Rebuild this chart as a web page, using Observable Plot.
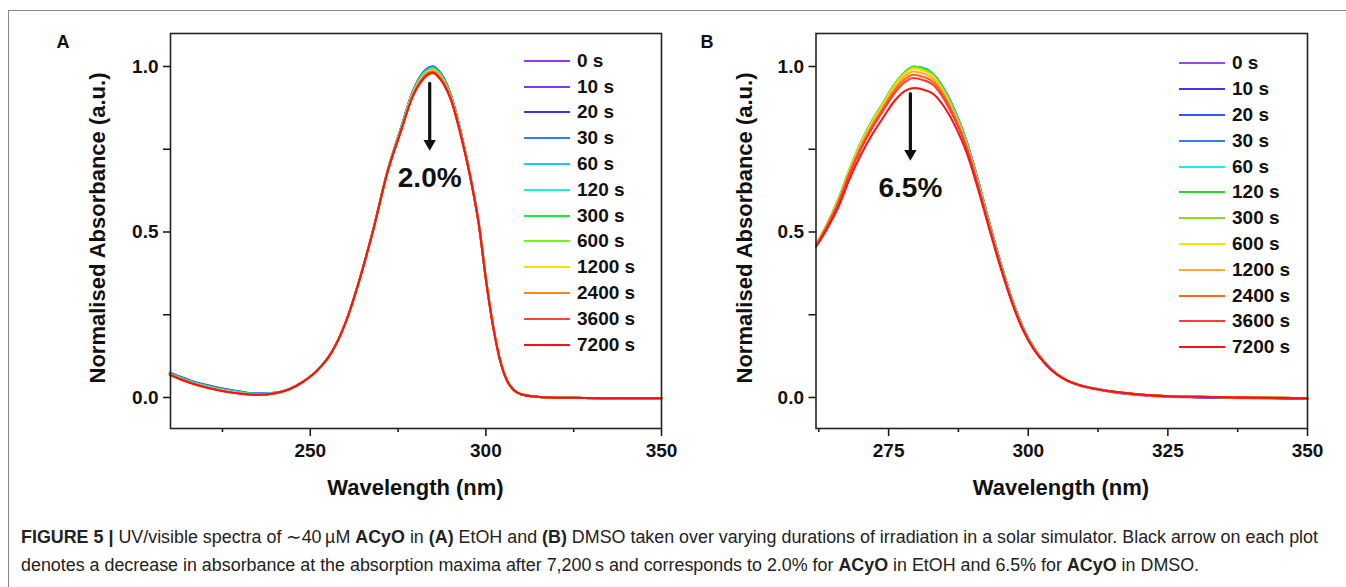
<!DOCTYPE html>
<html><head><meta charset="utf-8">
<script src="https://cdn.jsdelivr.net/npm/d3@7"></script>
<script src="https://cdn.jsdelivr.net/npm/@observablehq/plot@0.6"></script>
<style>
body{margin:0;background:#fff;font-family:"Liberation Sans",Arial,sans-serif;color:#111;}
#fig{position:relative;width:1346px;height:587px;overflow:hidden;background:#fff;}
.box{position:absolute;left:8px;top:10px;width:1400px;height:620px;border:1px solid #8a8a8a;}
.plot{position:absolute;top:0;}
.panel{position:absolute;font-weight:bold;font-size:18px;transform:translate(-50%,-50%);}
.ylab{position:absolute;font-weight:bold;font-size:22px;white-space:nowrap;transform:translate(-50%,-50%) rotate(-90deg);}
.xlab{position:absolute;font-weight:bold;font-size:22px;white-space:nowrap;transform:translate(-50%,-50%);}
.leg{position:absolute;}
.leg .row{display:flex;align-items:center;height:25.8px;}
.leg .sw{width:46px;height:2px;margin-right:7px;}
.leg .lab{font-weight:bold;font-size:19px;white-space:nowrap;}
.cap{position:absolute;left:21px;font-family:"Liberation Sans",Arial,sans-serif;font-size:17.5px;white-space:nowrap;color:#222;transform-origin:0 50%;}
</style></head>
<body><div id="fig"><div class="box"></div></div>
<script>
// ---------- data ----------
const timeLabels = ["0 s","10 s","20 s","30 s","60 s","120 s","300 s","600 s","1200 s","2400 s","3600 s","7200 s"];
const coloursA = ["#9933ff","#7a3dff","#3535ff","#2a7fff","#19c6ff","#22eedd","#11ee33","#66ff11","#ffdd00","#ff8811","#ff4433","#ff1111"];
const coloursB = ["#a040ff","#4433ff","#3355ff","#2a7fff","#11eeff","#22dd22","#88dd22","#ffe000","#ffaa33","#ff6611","#ff3b33","#ff1111"];

const wavelengthA = [210,213,216,220,225,230,235,240,244,248,252,256,260,264,268,272,276,279,282,284,285,286,288,290,293,296,298,300,302,304,306,308,310,314,318,325,335,350];
const absA_0s    = [0.073,0.060,0.048,0.036,0.024,0.016,0.011,0.014,0.025,0.048,0.082,0.135,0.225,0.355,0.510,0.685,0.820,0.920,0.980,0.998,1.000,0.993,0.965,0.915,0.795,0.645,0.525,0.360,0.220,0.115,0.052,0.022,0.010,0.003,0.000,-0.001,-0.002,-0.002];
const absA_10s   = [0.074,0.061,0.049,0.037,0.025,0.016,0.011,0.014,0.025,0.048,0.082,0.135,0.225,0.355,0.510,0.685,0.820,0.920,0.980,0.998,1.000,0.993,0.965,0.915,0.795,0.645,0.525,0.360,0.220,0.115,0.052,0.022,0.010,0.003,0.000,-0.001,-0.002,-0.002];
const absA_20s   = [0.075,0.063,0.051,0.039,0.027,0.018,0.012,0.014,0.025,0.048,0.082,0.135,0.225,0.355,0.510,0.685,0.820,0.919,0.979,0.997,0.999,0.992,0.964,0.914,0.795,0.645,0.525,0.360,0.220,0.115,0.052,0.022,0.010,0.003,0.000,-0.001,-0.002,-0.002];
const absA_30s   = [0.074,0.062,0.050,0.038,0.026,0.017,0.012,0.014,0.025,0.048,0.082,0.135,0.225,0.355,0.510,0.685,0.819,0.919,0.978,0.996,0.998,0.991,0.963,0.914,0.794,0.645,0.525,0.360,0.220,0.115,0.052,0.022,0.010,0.003,0.000,-0.001,-0.002,-0.002];
const absA_60s   = [0.072,0.060,0.048,0.036,0.024,0.016,0.011,0.014,0.025,0.048,0.082,0.135,0.225,0.355,0.510,0.685,0.819,0.918,0.977,0.995,0.997,0.990,0.962,0.913,0.794,0.645,0.525,0.360,0.220,0.115,0.052,0.022,0.010,0.003,0.000,-0.001,-0.002,-0.002];
const absA_120s  = [0.071,0.059,0.047,0.035,0.023,0.015,0.010,0.014,0.025,0.048,0.082,0.135,0.225,0.355,0.510,0.684,0.818,0.917,0.975,0.993,0.995,0.988,0.960,0.911,0.793,0.644,0.525,0.360,0.220,0.115,0.052,0.022,0.010,0.003,0.000,-0.001,-0.002,-0.002];
const absA_300s  = [0.071,0.058,0.046,0.034,0.022,0.014,0.010,0.013,0.025,0.048,0.082,0.135,0.225,0.355,0.510,0.684,0.817,0.915,0.973,0.991,0.993,0.986,0.958,0.910,0.792,0.644,0.524,0.359,0.220,0.115,0.052,0.022,0.010,0.003,0.000,-0.001,-0.002,-0.002];
const absA_600s  = [0.070,0.057,0.045,0.033,0.021,0.013,0.009,0.013,0.025,0.048,0.082,0.135,0.225,0.355,0.510,0.683,0.816,0.913,0.971,0.989,0.991,0.984,0.956,0.908,0.791,0.643,0.524,0.359,0.219,0.115,0.052,0.022,0.010,0.003,0.000,-0.001,-0.002,-0.002];
const absA_1200s = [0.070,0.057,0.045,0.033,0.021,0.013,0.009,0.013,0.025,0.048,0.082,0.135,0.225,0.355,0.510,0.683,0.815,0.913,0.969,0.987,0.989,0.982,0.954,0.907,0.790,0.643,0.523,0.358,0.219,0.114,0.052,0.022,0.010,0.003,0.000,-0.001,-0.002,-0.002];
const absA_2400s = [0.069,0.056,0.044,0.032,0.020,0.012,0.008,0.013,0.025,0.048,0.082,0.135,0.225,0.355,0.510,0.682,0.813,0.910,0.966,0.984,0.986,0.979,0.951,0.905,0.788,0.642,0.522,0.357,0.218,0.114,0.051,0.022,0.010,0.003,0.000,-0.001,-0.002,-0.002];
const absA_3600s = [0.069,0.056,0.044,0.032,0.020,0.012,0.008,0.013,0.025,0.048,0.082,0.135,0.225,0.355,0.510,0.682,0.812,0.907,0.963,0.981,0.983,0.976,0.949,0.903,0.787,0.642,0.522,0.357,0.218,0.114,0.051,0.022,0.010,0.003,0.000,-0.001,-0.002,-0.002];
const absA_7200s = [0.068,0.055,0.043,0.031,0.019,0.011,0.008,0.013,0.025,0.048,0.082,0.135,0.225,0.355,0.510,0.681,0.810,0.905,0.960,0.978,0.980,0.973,0.946,0.900,0.785,0.641,0.521,0.356,0.217,0.113,0.051,0.022,0.010,0.003,0.000,-0.001,-0.002,-0.002];

const wavelengthB = [262,264,266,268,270,272,274,276,278,279.5,281,283,285,287,289,291,293,295,297,299,301,303,305,307,309,312,315,320,325,330,340,350];
const absB_0s    = [0.457,0.520,0.595,0.684,0.764,0.830,0.885,0.940,0.980,0.996,0.994,0.975,0.928,0.859,0.770,0.655,0.529,0.408,0.300,0.212,0.149,0.104,0.071,0.050,0.037,0.025,0.016,0.007,0.002,0.000,-0.002,-0.004];
const absB_10s   = [0.458,0.521,0.596,0.685,0.765,0.831,0.886,0.941,0.981,0.997,0.995,0.976,0.929,0.860,0.771,0.656,0.530,0.409,0.301,0.213,0.150,0.105,0.072,0.051,0.038,0.026,0.017,0.008,0.003,0.001,-0.001,-0.003];
const absB_20s   = [0.459,0.522,0.597,0.686,0.766,0.832,0.887,0.942,0.982,0.998,0.996,0.977,0.930,0.861,0.772,0.657,0.531,0.410,0.302,0.214,0.151,0.106,0.073,0.052,0.039,0.027,0.018,0.009,0.004,0.001,-0.001,-0.003];
const absB_30s   = [0.460,0.523,0.598,0.687,0.767,0.833,0.888,0.943,0.983,0.999,0.996,0.977,0.930,0.861,0.772,0.657,0.531,0.410,0.302,0.214,0.151,0.106,0.073,0.052,0.039,0.027,0.018,0.009,0.004,0.002,0.000,-0.002];
const absB_60s   = [0.460,0.523,0.598,0.688,0.768,0.834,0.889,0.944,0.984,0.999,0.996,0.977,0.929,0.860,0.771,0.656,0.530,0.409,0.301,0.213,0.150,0.106,0.073,0.052,0.039,0.027,0.018,0.009,0.004,0.002,0.000,-0.002];
const absB_120s  = [0.462,0.525,0.600,0.690,0.770,0.835,0.890,0.945,0.985,1.000,0.995,0.975,0.925,0.855,0.766,0.650,0.525,0.404,0.297,0.210,0.148,0.104,0.072,0.051,0.038,0.026,0.018,0.009,0.004,0.002,0.000,-0.002];
const absB_300s  = [0.462,0.525,0.599,0.689,0.769,0.834,0.889,0.944,0.983,0.998,0.993,0.973,0.924,0.854,0.765,0.650,0.525,0.404,0.297,0.210,0.148,0.104,0.072,0.051,0.038,0.026,0.018,0.009,0.004,0.002,0.000,-0.002];
const absB_600s  = [0.461,0.523,0.597,0.687,0.766,0.830,0.885,0.940,0.979,0.993,0.988,0.969,0.920,0.851,0.763,0.648,0.523,0.403,0.296,0.209,0.148,0.104,0.072,0.051,0.038,0.026,0.018,0.009,0.004,0.002,0.000,-0.002];
const absB_1200s = [0.460,0.522,0.594,0.683,0.761,0.825,0.880,0.933,0.972,0.985,0.980,0.962,0.914,0.846,0.760,0.645,0.522,0.402,0.295,0.209,0.147,0.104,0.072,0.051,0.038,0.026,0.018,0.009,0.004,0.002,0.000,-0.002];
const absB_2400s = [0.459,0.519,0.590,0.678,0.755,0.819,0.873,0.926,0.963,0.975,0.970,0.953,0.907,0.840,0.755,0.642,0.519,0.400,0.294,0.208,0.147,0.103,0.072,0.051,0.038,0.026,0.018,0.009,0.004,0.002,0.000,-0.002];
const absB_3600s = [0.458,0.517,0.587,0.674,0.749,0.812,0.866,0.918,0.954,0.965,0.960,0.944,0.899,0.834,0.751,0.639,0.517,0.399,0.293,0.207,0.146,0.103,0.071,0.051,0.038,0.026,0.018,0.009,0.004,0.002,0.000,-0.002];
const absB_7200s = [0.455,0.510,0.575,0.660,0.732,0.793,0.845,0.895,0.927,0.935,0.931,0.917,0.877,0.817,0.738,0.630,0.510,0.394,0.290,0.205,0.145,0.102,0.071,0.051,0.038,0.026,0.018,0.009,0.004,0.002,-0.001,-0.003];

const xTicksA = [250,300,350];
const xMinorA = [225,275,325];
const xTicksB = [275,300,325,350];
const xMinorB = [262.5,287.5,312.5,337.5];
const yTicks = [0,0.5,1.0];
const yMinor = [0.25,0.75];

// arrows: wavelength, start and end absorbance, label position
const arrowA = [{x:284.0, y1:0.949, y2:0.746, yLabel:0.662, label:"2.0%"}];
const arrowB = [{x:278.9, y1:0.918, y2:0.716, yLabel:0.634, label:"6.5%"}];

const panelLabels = ["A","B"];
const yTitle = "Normalised Absorbance (a.u.)";
const xTitle = "Wavelength (nm)";
const captionLine1 = '<b>FIGURE 5</b> <b>|</b> UV/visible spectra of ∼40\u2009µM <b>ACyO</b> in <b>(A)</b> EtOH and <b>(B)</b> DMSO taken over varying durations of irradiation in a solar simulator. Black arrow on each plot';
const captionLine2 = 'denotes a decrease in absorbance at the absorption maxima after 7,200\u2009s and corresponds to 2.0% for <b>ACyO</b> in EtOH and 6.5% for <b>ACyO</b> in DMSO.';

// ---------- build ----------
const seriesA = [absA_0s,absA_10s,absA_20s,absA_30s,absA_60s,absA_120s,absA_300s,absA_600s,absA_1200s,absA_2400s,absA_3600s,absA_7200s];
const seriesB = [absB_0s,absB_10s,absB_20s,absB_30s,absB_60s,absB_120s,absB_300s,absB_600s,absB_1200s,absB_2400s,absB_3600s,absB_7200s];
const rowsA = timeLabels.flatMap((t,i)=>wavelengthA.map((w,j)=>({t,w,v:seriesA[i][j]})));
const rowsB = timeLabels.flatMap((t,i)=>wavelengthB.map((w,j)=>({t,w,v:seriesB[i][j]})));

const fig = document.getElementById("fig");
const style = {fontFamily:"'Liberation Sans', Arial, sans-serif", fontSize:"19px", fontWeight:"bold", color:"#111", background:"transparent", overflow:"visible"};

function panel({rows, colours, xDomain, xTicks, xMinor, arrow, width, mL, mR, left}) {
  const p = Plot.plot({
    width, height:510, marginLeft:mL, marginRight:mR, marginTop:33, marginBottom:82,
    style,
    x:{domain:xDomain},
    y:{domain:[-0.0937,1.0997]},
    color:{domain:timeLabels, range:colours},
    marks:[
      Plot.line(rows,{x:"w",y:"v",z:"t",stroke:"t",strokeWidth:2,curve:"monotone-x"}),
      Plot.axisX({ticks:xTicks, tickSize:8, tickPadding:7, tickFormat:"d", label:null, strokeWidth:1.5}),
      Plot.axisX({ticks:xMinor, tickSize:4, tickFormat:()=>"", label:null, strokeWidth:1.5}),
      Plot.axisY({ticks:yTicks, tickSize:7, tickPadding:5, tickFormat:".1f", label:null, strokeWidth:1.5}),
      Plot.axisY({ticks:yMinor, tickSize:7, tickFormat:()=>"", label:null, strokeWidth:1.5}),
      Plot.frame({stroke:"#222", strokeWidth:1.6}),
      Plot.arrow(arrow,{x1:"x",x2:"x",y1:"y1",y2:"y2",headLength:0,insetEnd:8,stroke:"#111",strokeWidth:3.2}),
      Plot.dot(arrow,{x:"x",y:"y2",symbol:"triangle",rotate:180,r:4.6,fill:"#111",stroke:"none",dy:-7}),
      Plot.text(arrow,{x:"x",y:"yLabel",text:"label",fontSize:28,fontWeight:"bold",fill:"#111"})
    ]
  });
  p.classList.add("plot");
  p.style.left = left + "px";
  fig.appendChild(p);
}

panel({rows:rowsA, colours:coloursA, xDomain:[210.2,350], xTicks:xTicksA, xMinor:xMinorA, arrow:arrowA, width:680, mL:170, mR:19, left:0});
panel({rows:rowsB, colours:coloursB, xDomain:[262,350], xTicks:xTicksB, xMinor:xMinorB, arrow:arrowB, width:620, mL:115.5, mR:13, left:700});

function add(cls, html, x, y) {
  const d = document.createElement("div");
  d.className = cls; d.innerHTML = html;
  d.style.left = x + "px"; d.style.top = y + "px";
  fig.appendChild(d); return d;
}
add("panel", panelLabels[0], 63, 42);
add("panel", panelLabels[1], 707, 42);
add("ylab", yTitle, 98, 228);
add("ylab", yTitle, 745, 228);
add("xlab", xTitle, 415.5, 488);
add("xlab", xTitle, 1061, 488);

function legend(colours, x, y) {
  const d = document.createElement("div");
  d.className = "leg"; d.style.left = x + "px"; d.style.top = y + "px";
  timeLabels.forEach((t,i)=>{
    const r = document.createElement("div"); r.className = "row";
    r.innerHTML = `<div class="sw" style="background:${colours[i]}"></div><div class="lab">${t}</div>`;
    d.appendChild(r);
  });
  fig.appendChild(d);
}
legend(coloursA, 524, 48);
legend(coloursB, 1179, 50.5);

// caption: condensed so that line 1 spans the full width
const c1 = add("cap", captionLine1, 21, 527);
const c2 = add("cap", captionLine2, 21, 555);
const k = 1297 / c1.getBoundingClientRect().width;
c1.style.transform = `scaleX(${k})`; c2.style.transform = `scaleX(${k})`;
</script></body></html>
